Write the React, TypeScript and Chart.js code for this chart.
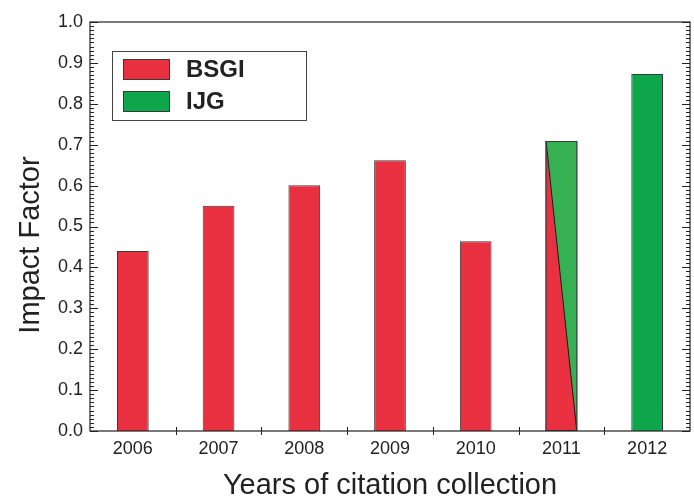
import React, { useEffect, useRef } from "react";
import { Chart, registerables } from "chart.js";

Chart.register(...registerables);

const categories = ["2006", "2007", "2008", "2009", "2010", "2011", "2012"];
const bsgiValues: (number | null)[] = [0.44, 0.551, 0.601, 0.662, 0.464, 0.709, null];
const ijgValues: (number | null)[] = [null, null, null, null, null, 0.709, 0.873];
const seriesNames = ["BSGI", "IJG"];
const xTitle = "Years of citation collection";
const yTitle = "Impact Factor";

const FONT = "'Liberation Sans', Arial, sans-serif";
const RED = "#e83040";
const GREEN = "#0ea64b";
const GREEN_LIGHT = "#35b153";
const INK = "#222222";
const BAR_BORDER = "#3a3a3a";

const decorPlugin = {
  id: "decor",
  afterDatasetsDraw(chart: any) {
    const ctx = chart.ctx;
    const m0 = chart.getDatasetMeta(0);
    for (let i = 0; i < categories.length; i++) {
      if (bsgiValues[i] != null && ijgValues[i] != null) {
        const el = m0.data[i];
        const p = el.getProps(["x", "y", "base", "width"], true);
        const l = p.x - p.width / 2;
        const r = p.x + p.width / 2;
        const t = p.y;
        const b = p.base;
        ctx.save();
        ctx.fillStyle = RED;
        ctx.beginPath();
        ctx.moveTo(l, t);
        ctx.lineTo(l, b);
        ctx.lineTo(r, b);
        ctx.closePath();
        ctx.fill();
        ctx.fillStyle = GREEN_LIGHT;
        ctx.beginPath();
        ctx.moveTo(l, t);
        ctx.lineTo(r, t);
        ctx.lineTo(r, b);
        ctx.closePath();
        ctx.fill();
        ctx.strokeStyle = "#1a1a1a";
        ctx.lineWidth = 1;
        ctx.beginPath();
        ctx.moveTo(l + 0.5, t);
        ctx.lineTo(r - 0.5, b);
        ctx.stroke();
        ctx.strokeStyle = BAR_BORDER;
        ctx.strokeRect(l + 0.5, t + 0.5, r - l - 1, b - t - 1);
        ctx.restore();
      }
    }
  },
  afterDraw(chart: any) {
    const ctx = chart.ctx;
    const a = chart.chartArea;
    const xs = chart.scales.x;
    const ys = chart.scales.y;
    ctx.save();
    ctx.strokeStyle = INK;
    ctx.lineWidth = 1.2;
    ctx.strokeRect(a.left, a.top, a.right - a.left, a.bottom - a.top);
    ctx.lineWidth = 1;
    for (let i = 0; i <= 100; i++) {
      const v = i / 100;
      const y = Math.round(ys.getPixelForValue(v)) + 0.5;
      const len = i % 10 === 0 ? 8 : 4;
      ctx.beginPath();
      ctx.moveTo(a.left, y);
      ctx.lineTo(a.left + len, y);
      ctx.moveTo(a.right, y);
      ctx.lineTo(a.right - len, y);
      ctx.stroke();
    }
    for (let i = 0; i < categories.length - 1; i++) {
      const x = Math.round((xs.getPixelForValue(i) + xs.getPixelForValue(i + 1)) / 2) + 0.5;
      ctx.beginPath();
      ctx.moveTo(x, a.bottom - 4);
      ctx.lineTo(x, a.bottom + 4);
      ctx.stroke();
    }
    ctx.fillStyle = INK;
    ctx.font = `29px ${FONT}`;
    ctx.textAlign = "center";
    ctx.textBaseline = "alphabetic";
    ctx.fillText(xTitle, (a.left + a.right) / 2, 494);
    ctx.save();
    ctx.translate(39, 245);
    ctx.rotate(-Math.PI / 2);
    ctx.fillText(yTitle, 0, 0);
    ctx.restore();
    const lx = a.left + 22;
    const ly = a.top + 29;
    ctx.fillStyle = "#ffffff";
    ctx.fillRect(lx, ly, 194, 69);
    ctx.strokeStyle = "#444";
    ctx.lineWidth = 1;
    ctx.strokeRect(lx + 0.5, ly + 0.5, 194, 69);
    const colors = [RED, GREEN];
    seriesNames.forEach((name, k) => {
      const sy = ly + 8 + k * 32;
      ctx.fillStyle = colors[k];
      ctx.fillRect(lx + 11, sy, 47, 21);
      ctx.strokeStyle = BAR_BORDER;
      ctx.strokeRect(lx + 11.5, sy + 0.5, 46, 20);
      ctx.fillStyle = INK;
      ctx.font = `bold 24px ${FONT}`;
      ctx.textAlign = "left";
      ctx.textBaseline = "alphabetic";
      ctx.fillText(name, lx + 74, sy + 18);
    });
    ctx.restore();
  },
};

export default function App() {
  const ref = useRef<HTMLCanvasElement>(null);
  useEffect(() => {
    if (!ref.current) return;
    const chart = new Chart(ref.current, {
      type: "bar",
      data: {
        labels: categories,
        datasets: [
          {
            label: seriesNames[0],
            data: bsgiValues,
            backgroundColor: RED,
            borderColor: BAR_BORDER,
            borderWidth: 1,
            grouped: false,
            barPercentage: 0.37,
            categoryPercentage: 1,
          } as any,
          {
            label: seriesNames[1],
            data: ijgValues,
            backgroundColor: GREEN,
            borderColor: BAR_BORDER,
            borderWidth: 1,
            grouped: false,
            barPercentage: 0.37,
            categoryPercentage: 1,
          } as any,
        ],
      },
      options: {
        animation: false,
        responsive: false,
        devicePixelRatio: 1,
        layout: { padding: { top: 22, right: 4, left: 0, bottom: 0 } },
        plugins: { legend: { display: false }, tooltip: { enabled: false } },
        scales: {
          x: {
            type: "category",
            offset: true,
            grid: { display: false, drawTicks: false },
            border: { display: false },
            ticks: { font: { family: FONT, size: 18 }, color: INK, padding: 7 },
            afterFit: (s: any) => {
              s.height = 67;
            },
          },
          y: {
            min: 0,
            max: 1,
            grid: { display: false, drawTicks: false },
            border: { display: false },
            ticks: {
              stepSize: 0.1,
              font: { family: FONT, size: 18 },
              color: INK,
              padding: 7,
              callback: (v: any) => Number(v).toFixed(1),
            },
            afterFit: (s: any) => {
              s.width = 90;
            },
          },
        },
      } as any,
      plugins: [decorPlugin],
    });
    return () => chart.destroy();
  }, []);
  return (
    <div style={{ position: "absolute", left: 0, top: 0, width: 694, height: 498, background: "#fff" }}>
      <canvas ref={ref} width={694} height={498} style={{ width: 694, height: 498 }} />
    </div>
  );
}
